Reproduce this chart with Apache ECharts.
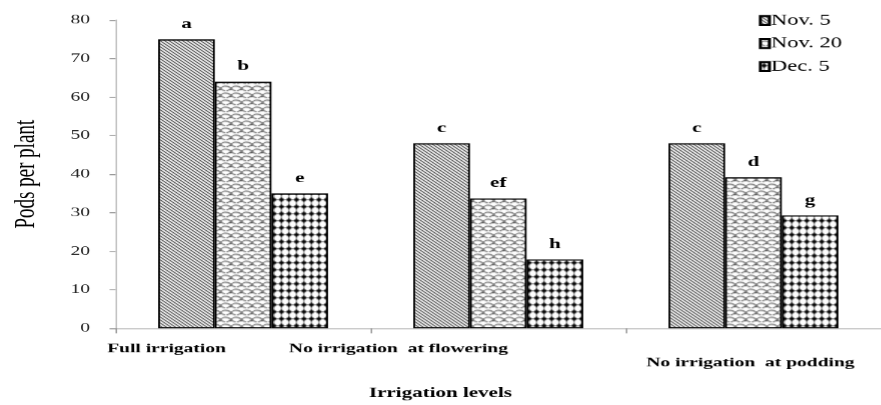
<!DOCTYPE html>
<html><head><meta charset="utf-8">
<script src="https://cdn.jsdelivr.net/npm/echarts@6/dist/echarts.min.js"></script>
<style>
html,body{margin:0;padding:0;background:#fff;overflow:hidden}
/* the reference image is a horizontally stretched (x1.5) chart */
#c{width:587px;height:405px;transform:scaleX(1.5);transform-origin:0 0}
</style>
</head><body><div id="c"></div>
<script>
const categories = ['Full irrigation', 'No irrigation  at flowering', 'No irrigation  at podding'];
const seriesNames = ['Nov. 5', 'Nov. 20', 'Dec. 5'];
const nov5 = [75, 48, 48];
const nov20 = [64, 33.7, 39.2];
const dec5 = [35, 17.9, 29.3];
const letNov5 = ['a', 'c', 'c'];
const letNov20 = ['b', 'ef', 'd'];
const letDec5 = ['e', 'h', 'g'];
const yTicks = [0, 10, 20, 30, 40, 50, 60, 70, 80];

function mk(w, h, draw) {
  const c = document.createElement('canvas'); c.width = w; c.height = h;
  const g = c.getContext('2d'); g.fillStyle = '#fff'; g.fillRect(0, 0, w, h);
  draw(g); return c;
}
const pat1 = mk(3, 3, g => {
  g.strokeStyle = '#000'; g.lineWidth = 0.9;
  g.beginPath(); g.moveTo(-1, -1); g.lineTo(4, 4); g.moveTo(-1, 2); g.lineTo(1, 4); g.moveTo(2, -1); g.lineTo(4, 1); g.stroke();
});
const pat2 = mk(7, 7, g => {
  g.strokeStyle = '#222'; g.lineWidth = 0.8;
  g.beginPath(); g.arc(3.5, 5.5, 3.5, Math.PI * 1.05, Math.PI * 1.95); g.stroke();
  g.beginPath(); g.arc(0, 9, 3.5, Math.PI * 1.05, Math.PI * 1.95); g.stroke();
  g.beginPath(); g.arc(7, 9, 3.5, Math.PI * 1.05, Math.PI * 1.95); g.stroke();
});
const pat3 = mk(5, 7, g => {
  g.strokeStyle = '#666'; g.lineWidth = 0.7;
  g.beginPath(); g.moveTo(0, 3.5); g.lineTo(5, 3.5); g.moveTo(2.5, 0); g.lineTo(2.5, 7); g.stroke();
  g.fillStyle = '#000';
  g.beginPath(); g.moveTo(2.5, 0.9); g.lineTo(4.4, 3.5); g.lineTo(2.5, 6.1); g.lineTo(0.6, 3.5); g.closePath(); g.fill();
});
const fills = [pat1, pat2, pat3];
const datas = [nov5, nov20, dec5];
const letters = [letNov5, letNov20, letDec5];

const chart = echarts.init(document.getElementById('c'), null, { devicePixelRatio: 1.5 });
const serif = 'Liberation Serif';
chart.setOption({
  animation: false,
  backgroundColor: '#fff',
  grid: { left: 70.5, right: -9.5, top: 20, bottom: 73, containLabel: false },
  legend: {
    orient: 'vertical', right: 21, top: 8, itemGap: 8, itemWidth: 6, itemHeight: 9, icon: 'rect',
    textStyle: { fontFamily: serif, fontSize: 15, color: '#000', padding: [0, 0, 0, -4] },
    data: seriesNames
  },
  xAxis: {
    type: 'category',
    data: [
      { value: categories[0], textStyle: { padding: [0, 102, 0, 0] } },
      { value: categories[1], textStyle: { padding: [0, 133, 0, 0] } },
      { value: categories[2], textStyle: { padding: [14, 4, 0, 0] } }
    ],
    name: 'Irrigation levels', nameLocation: 'middle', nameGap: 58,
    nameTextStyle: { fontFamily: serif, fontSize: 14, fontWeight: 'bold', color: '#000', padding: [0, 77, 0, 0] },
    axisLine: { lineStyle: { color: '#bfbfbf', width: 1 } },
    axisTick: { show: true, length: 5, lineStyle: { color: '#999' } },
    axisLabel: { fontFamily: serif, fontSize: 13, fontWeight: 'bold', color: '#000', margin: 14, interval: 0 }
  },
  yAxis: {
    type: 'value', min: 0, max: 80, interval: 10,
    name: 'Pods per plant', nameLocation: 'middle', nameGap: 50, nameRotate: 90,
    nameTextStyle: { fontFamily: serif, fontSize: 19, color: '#000' },
    axisLine: { show: true, lineStyle: { color: '#bfbfbf' } },
    axisTick: { show: true, length: 4, lineStyle: { color: '#999' } },
    splitLine: { show: false },
    axisLabel: { fontFamily: serif, fontSize: 13, color: '#222', margin: 17,
      formatter: v => yTicks.includes(v) ? String(v) : '' }
  },
  series: seriesNames.map((n, i) => ({
    name: n, type: 'bar', data: datas[i], barWidth: '22.2%', barGap: '0%',
    itemStyle: { color: { image: fills[i], repeat: 'repeat' }, borderColor: '#000', borderWidth: 1.2 },
    label: { show: true, position: 'top', distance: 8, fontFamily: serif, fontSize: 14, fontWeight: 'bold', color: '#000',
      formatter: p => letters[i][p.dataIndex] }
  }))
});
</script></body></html>
